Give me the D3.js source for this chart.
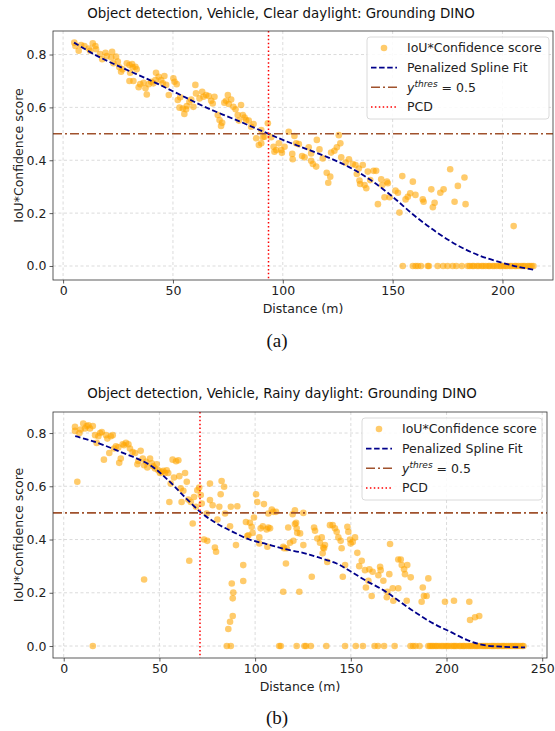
<!DOCTYPE html>
<html><head><meta charset="utf-8">
<script src="https://cdn.jsdelivr.net/npm/d3@7"></script>
<style>body{margin:0;background:#fff} svg{display:block} text{font-family:"DejaVu Sans",sans-serif}</style>
</head><body>
<svg id="c" width="555" height="731"></svg>
<script>
// ---------- DATA ----------
const titles = ["Object detection, Vehicle, Clear daylight: Grounding DINO",
                "Object detection, Vehicle, Rainy daylight: Grounding DINO"];
const captions = ["(a)", "(b)"];
const xLabel = "Distance (m)";
const yLabel = "IoU*Confidence score";
const legendLabels = ["IoU*Confidence score", "Penalized Spline Fit", "thres", "PCD"];
const xTicksA = [0, 50, 100, 150, 200];
const xTicksB = [0, 50, 100, 150, 200, 250];
const yTicks = [0.0, 0.2, 0.4, 0.6, 0.8];
const thresholdValue = 0.5;
const pcdA = 93.5;
const pcdB = 71.2;

// panel (a) scatter
const aDist = [5.1,5.6,7.1,8.2,9.7,11.7,12.3,13.5,14.7,15,16.8,17.8,19.3,19.9,21.9,22.3,24.1,24.9,22.9,25.6,26.4,27.1,29,30.2,31.4,31.7,32.9,33.5,30.5,30.2,32,34.4,35.1,36.6,37.5,38.1,39,40.1,41.1,42.3,42,43.5,44.6,45.4,46.1,46.9,48.1,50.2,50.7,51.7,52.2,53.3,53,54.5,55.2,56,56.3,57.5,58.3,59.3,60.2,60.5,62.1,63.3,63.9,65.1,66.3,67.4,68.1,68.9,70.4,71.2,71.9,72.4,73.4,74.2,75,75.4,76.5,77.5,78.5,79.5,80,81,81.8,82.6,83.3,84.5,85.6,86.7,87.9,89.1,90.2,90.2,90.9,91.7,93.2,94.7,95.8,96.2,97,98.2,99.3,99.6,100.8,102.7,104.3,104.5,105.3,106.1,107.3,108.8,109.9,111.8,112.9,112.9,113.7,115.2,115.5,116.7,118.2,120,120.7,121.6,122,123.5,124.6,125.5,126.2,126.6,128.6,130.1,131.9,133.1,133.7,134.6,134.9,135.2,136.4,137.2,138,138.7,139.8,141.3,142.5,143.3,144.8,145.3,147.4,147.8,146.3,148.6,151.3,152.4,153.1,154.4,155.9,156.9,158,159.2,160.4,163.7,164.1,167.6,168.3,169.1,171.7,173.2,176.2,178.2,179.7,182.7,183.2,205.1,
  154.6,159.2,160.5,161.5,162.9,166,166.5,170.5,173,175,177.3,179,181.5,184.2,185.1,186.3,187,188.4,189.2,190.5,191.3,192.4,193.6,194.2,195.5,196.3,197.4,198.6,199.3,200.5,201.4,202.2,203.5,204.3,205.6,206.2,207.3,208.5,209.4,210.2,211.5,212.3,213.2,214.1];
const aScore = [.845,.832,.814,.836,.832,.823,.814,.842,.832,.82,.802,.782,.807,.794,.789,.81,.792,.773,.767,.752,.735,.744,.767,.76,.764,.752,.754,.744,.731,.70,.70,.676,.688,.693,.672,.649,.688,.697,.691,.731,.703,.716,.703,.691,.719,.685,.647,.71,.697,.688,.628,.638,.599,.596,.575,.593,.605,.621,.63,.602,.685,.653,.634,.659,.64,.647,.643,.625,.615,.64,.571,.552,.53,.542,.618,.625,.647,.613,.63,.602,.593,.571,.55,.609,.571,.562,.552,.55,.527,.537,.483,.458,.464,.514,.487,.489,.54,.487,.451,.432,.439,.464,.439,.428,.451,.508,.424,.404,.492,.464,.461,.416,.411,.449,.426,.398,.386,.376,.477,.441,.407,.353,.315,.338,.429,.436,.449,.495,.464,.411,.391,.404,.386,.382,.348,.369,.323,.31,.382,.306,.294,.357,.325,.36,.36,.234,.328,.306,.319,.313,.26,.26,.285,.277,.202,.34,.252,.262,.275,.319,.269,.252,.243,.29,.222,.239,.277,.29,.366,.243,.303,.335,.234,.151,
  0,0,0,0,0,0,0,0,0,0,0,0,0,0,0,0,0,0,0,0,0,0,0,0,0,0,0,0,0,0,0,0,0,0,0,0,0,0,0,0,0,0,0,0];
// panel (a) spline fit
const aSplineDist = [5,14.3,25,39,52,65,80,93.5,100,110,120,130,140,150,160,170,180,190,200,207,215];
const aSplineVal  = [.845,.80,.757,.705,.653,.60,.548,.50,.477,.445,.413,.375,.325,.262,.19,.128,.076,.038,.012,-.003,-.015];

// panel (b) scatter
const bDist = [5.9,5.9,7.1,8.2,8.9,10.2,11.1,12,12.9,13.7,15.2,15.2,16.4,17.2,18.1,19,19.9,21,22.1,22.8,23.8,24.6,25.6,26.3,27.3,28.5,29,29.8,30.8,31.5,32.5,33.8,34.6,36,37.3,38.5,39,40.2,41.3,42,42,43,43.7,45.1,46,46.8,47.7,48.6,49.4,50.3,51.2,52,52.9,53.8,54.6,55.2,55.9,56.9,57.6,58.7,59.9,60.4,61.1,61.6,62.5,63.4,64.3,65.1,65.6,66.4,67.4,68.1,69.1,69.8,70.8,71.6,72.1,73.3,74.7,75,76.4,76.4,77.8,79,79.6,80.3,81.3,82,82.5,83.8,84.3,85.2,86,86.9,86.9,87.3,87.3,87.8,88.3,88.3,88.6,90,90.7,93.8,93.8,95.2,95.9,96.5,97.3,98.2,98.7,99.4,100.5,101.1,102.2,102.2,102.9,104,104.6,106,106.4,106.9,106.9,107.8,108.7,109.5,110.9,112.6,113.4,114.7,114.7,115.1,116.1,116.5,117.3,118.2,119.6,120,120.8,120.8,121.4,121.7,121.7,122,123.1,123.5,125.2,125.2,125.8,126.6,129.1,129.6,130.8,131.3,132.5,133.9,134.8,135.3,135.6,136,136.5,137.2,137.7,139.1,140.5,141.7,142.6,143.5,144.7,145.2,145.8,147,147,148.2,148.7,149.6,149.9,151,152.2,152.6,153.4,154.4,155.7,156.3,157.4,157.9,159.2,159.7,160.9,161.4,162.4,164.2,164.4,165.3,165.6,167,167.4,168.8,169.1,170.1,170.5,171.9,172.2,172.9,174.8,174.8,176.1,176.6,177.8,178.3,179.2,179.5,181.3,181.2,182.5,183.8,185.9,187,187.6,188.2,189.6,190.5,199.2,203.9,211.9,212.3,214.9,217.1,
  190.5,191.4,192.3,193.1,194.2,195,196.1,197.3,198.2,199.4,200.3,201.2,202.5,203.6,204.4,205.3,206.7,207.5,208.6,209.3,210.4,211.6,212.5,213.4,214.6,215.5,216.3,217.4,218.6,219.5,220.4,221.3,222.5,223.6,224.4,225.3,226.5,227.4,228.6,229.5,230.3,231.4,232.5,233.6,234.4,235.5,236.3,237.4,238.5,239.6,240.2];
const bScore = [.823,.808,.617,.80,.813,.836,.817,.826,.829,.817,.826,0,.792,.763,.788,.80,.804,.70,.792,.779,.725,.788,.792,.742,.75,.746,.688,.704,.758,.754,.763,.758,.742,.729,.725,.683,.695,.733,.704,.679,.25,.692,.671,.704,.686,.675,.667,.683,.66,.65,.654,.658,.65,.66,.65,.541,.61,.70,.633,.694,.698,.638,.592,.541,.583,.65,.617,.55,.32,.541,.46,.56,.523,.585,.595,.567,.535,.40,.498,.395,.61,.548,.529,.37,.354,.475,.523,.57,.62,.598,.498,0,.064,.45,.091,.523,0,.235,.113,.179,.201,.379,.525,.304,.244,.466,.413,.416,.463,.448,.425,.483,.57,.541,.408,.385,.442,.45,.533,.438,.373,.498,.445,.442,.513,.504,.504,0,0,.373,.204,.367,.31,.367,.445,.388,.495,.395,.51,.458,.463,.442,0,.425,.204,.423,.50,.379,0,0,0,.26,.445,.433,.404,.388,.408,.348,.37,.367,.379,0,.316,.454,.454,.442,.429,.408,.395,.367,.26,.304,0,.448,.429,.40,.385,.391,.408,0,.35,.30,.32,0,.285,.22,.245,.288,.188,.279,0,0,.266,.298,.285,.245,0,.183,.204,.27,.383,.217,.17,0,.217,.325,.325,.304,.288,.27,.17,.304,.258,0,0,0,0,.166,.22,.188,.188,.254,.166,.17,.166,.098,.108,.113,
  0,0,0,0,0,0,0,0,0,0,0,0,0,0,0,0,0,0,0,0,0,0,0,0,0,0,0,0,0,0,0,0,0,0,0,0,0,0,0,0,0,0,0,0,0,0,0,0,0,0,0];
// panel (b) spline fit
const bSplineDist = [6,15,27.7,45,55,62.5,72,80,88.6,97,106,115,125,132,142.6,150,158,167,175,184.4,193,201.8,210.6,219,230,241];
const bSplineVal  = [.788,.77,.735,.68,.62,.565,.50,.46,.428,.40,.383,.365,.35,.335,.31,.28,.245,.21,.17,.123,.085,.054,.023,.004,-.003,-.005];

// ---------- DRAW ----------
const svg = d3.select("#c");
const C = {scatter:"#FFA500", spline:"#00008B", thres:"#A0522D", pcd:"#FF0000", grid:"#b0b0b0", spine:"#333"};

function panel(o){
  const g = svg.append("g");
  const x = d3.scaleLinear().domain(o.xDom).range([o.left, o.right]);
  const y = d3.scaleLinear().domain(o.yDom).range([o.bottom, o.top]);
  const id = "clip" + o.key;
  svg.append("clipPath").attr("id", id).append("rect")
     .attr("x", o.left).attr("y", o.top).attr("width", o.right - o.left).attr("height", o.bottom - o.top);

  // grid
  const grid = g.append("g").attr("stroke", C.grid).attr("stroke-width", 0.8)
     .attr("stroke-dasharray", "3,2.5").attr("opacity", 0.55);
  o.xTicks.forEach(t => grid.append("line").attr("x1", x(t)).attr("x2", x(t)).attr("y1", o.top).attr("y2", o.bottom));
  yTicks.forEach(t => grid.append("line").attr("y1", y(t)).attr("y2", y(t)).attr("x1", o.left).attr("x2", o.right));

  const plot = g.append("g").attr("clip-path", `url(#${id})`);
  // scatter
  plot.append("g").selectAll("circle").data(o.dist.map((d, i) => [d, o.score[i]])).join("circle")
     .attr("cx", d => x(d[0])).attr("cy", d => y(d[1])).attr("r", 3.3)
     .attr("fill", C.scatter).attr("fill-opacity", 0.58);
  // spline
  const line = d3.line().x(d => x(d[0])).y(d => y(d[1])).curve(d3.curveCatmullRom.alpha(0.5));
  plot.append("path").datum(o.sDist.map((d, i) => [d, o.sVal[i]])).attr("d", line)
     .attr("fill", "none").attr("stroke", C.spline).attr("stroke-width", 1.8).attr("stroke-dasharray", "5.5,2.6");
  // threshold
  plot.append("line").attr("x1", o.left).attr("x2", o.right).attr("y1", y(thresholdValue)).attr("y2", y(thresholdValue))
     .attr("stroke", C.thres).attr("stroke-width", 1.6).attr("stroke-dasharray", "9,3,2,3");
  // PCD
  plot.append("line").attr("x1", x(o.pcd)).attr("x2", x(o.pcd)).attr("y1", o.top).attr("y2", o.bottom)
     .attr("stroke", C.pcd).attr("stroke-width", 1.5).attr("stroke-dasharray", "1.5,2.4");

  // axes
  const ax = g.append("g").attr("transform", `translate(0,${o.bottom})`)
     .call(d3.axisBottom(x).tickValues(o.xTicks).tickFormat(d3.format("d")).tickSize(3.5).tickPadding(3));
  const ay = g.append("g").attr("transform", `translate(${o.left},0)`)
     .call(d3.axisLeft(y).tickValues(yTicks).tickFormat(d3.format(".1f")).tickSize(3.5).tickPadding(3));
  [ax, ay].forEach(a => {
    a.select(".domain").remove();
    a.selectAll("line").attr("stroke", C.spine).attr("stroke-width", 0.8);
    a.selectAll("text").attr("font-size", 12.5).attr("fill", "#222").attr("font-family", "DejaVu Sans");
  });
  // spines
  g.append("rect").attr("x", o.left).attr("y", o.top).attr("width", o.right - o.left).attr("height", o.bottom - o.top)
     .attr("fill", "none").attr("stroke", C.spine).attr("stroke-width", 0.8);

  // labels
  g.append("text").attr("x", o.titleX).attr("y", o.titleY).attr("text-anchor", "middle").attr("font-size", 13.4)
     .attr("fill", "#111").text(o.title);
  g.append("text").attr("x", (o.left + o.right) / 2).attr("y", o.bottom + 33).attr("text-anchor", "middle")
     .attr("font-size", 12.5).attr("fill", "#222").text(xLabel);
  g.append("text").attr("transform", `translate(18,${(o.top + o.bottom) / 2}) rotate(-90)`).attr("text-anchor", "middle")
     .attr("dominant-baseline", "central").attr("font-size", 12.5).attr("fill", "#222").text(yLabel);
  g.append("text").attr("x", o.capX).attr("y", o.capY).attr("text-anchor", "middle")
     .attr("font-size", 19).attr("fill", "#111")
     .style("font-family", "'Liberation Serif', serif").text(o.caption);

  // legend
  const L = g.append("g").attr("transform", `translate(${o.legX},${o.legY})`);
  L.append("rect").attr("width", o.legW).attr("height", 82).attr("rx", 3).attr("fill", "#fff").attr("fill-opacity", 0.85)
     .attr("stroke", "#d0d0d0").attr("stroke-width", 0.8);
  const rows = [11, 30.7, 50.3, 70];
  L.append("circle").attr("cx", 17).attr("cy", rows[0]).attr("r", 3.3).attr("fill", C.scatter).attr("fill-opacity", 0.58);
  L.append("line").attr("x1", 4).attr("x2", 30).attr("y1", rows[1]).attr("y2", rows[1]).attr("stroke", C.spline)
     .attr("stroke-width", 1.8).attr("stroke-dasharray", "5.5,2.6");
  L.append("line").attr("x1", 4).attr("x2", 30).attr("y1", rows[2]).attr("y2", rows[2]).attr("stroke", C.thres)
     .attr("stroke-width", 1.6).attr("stroke-dasharray", "9,3,2,3");
  L.append("line").attr("x1", 4).attr("x2", 30).attr("y1", rows[3]).attr("y2", rows[3]).attr("stroke", C.pcd)
     .attr("stroke-width", 1.5).attr("stroke-dasharray", "1.5,2.4");
  const tx = 40;
  L.append("text").attr("x", tx).attr("y", rows[0]).attr("dy", "0.35em").attr("font-size", 12.5).attr("fill", "#222").text(legendLabels[0]);
  L.append("text").attr("x", tx).attr("y", rows[1]).attr("dy", "0.35em").attr("font-size", 12.5).attr("fill", "#222").text(legendLabels[1]);
  const t3 = L.append("text").attr("x", tx).attr("y", rows[2]).attr("dy", "0.35em").attr("font-size", 12.5).attr("fill", "#222");
  t3.append("tspan").attr("font-style", "italic").text("y");
  t3.append("tspan").attr("font-style", "italic").attr("font-size", 9).attr("dy", "-0.5em").text(legendLabels[2]);
  t3.append("tspan").attr("dy", "0.36em").text(" = 0.5");
  L.append("text").attr("x", tx).attr("y", rows[3]).attr("dy", "0.35em").attr("font-size", 12.5).attr("fill", "#222").text(legendLabels[3]);
}

panel({key:"a", left:53, right:553, top:31, bottom:280, xDom:[-4.6, 223], yDom:[-0.053, 0.889],
  xTicks:xTicksA, dist:aDist, score:aScore, sDist:aSplineDist, sVal:aSplineVal, pcd:pcdA,
  title:titles[0], titleX:281, titleY:18, caption:captions[0], capX:277, capY:347,
  legX:367, legY:37, legW:182});
panel({key:"b", left:53, right:547, top:412, bottom:658, xDom:[-5.6, 252.5], yDom:[-0.045, 0.879],
  xTicks:xTicksB, dist:bDist, score:bScore, sDist:bSplineDist, sVal:bSplineVal, pcd:pcdB,
  title:titles[1], titleX:282, titleY:398, caption:captions[1], capX:277, capY:724,
  legX:362, legY:418, legW:180});
</script>
</body></html>
